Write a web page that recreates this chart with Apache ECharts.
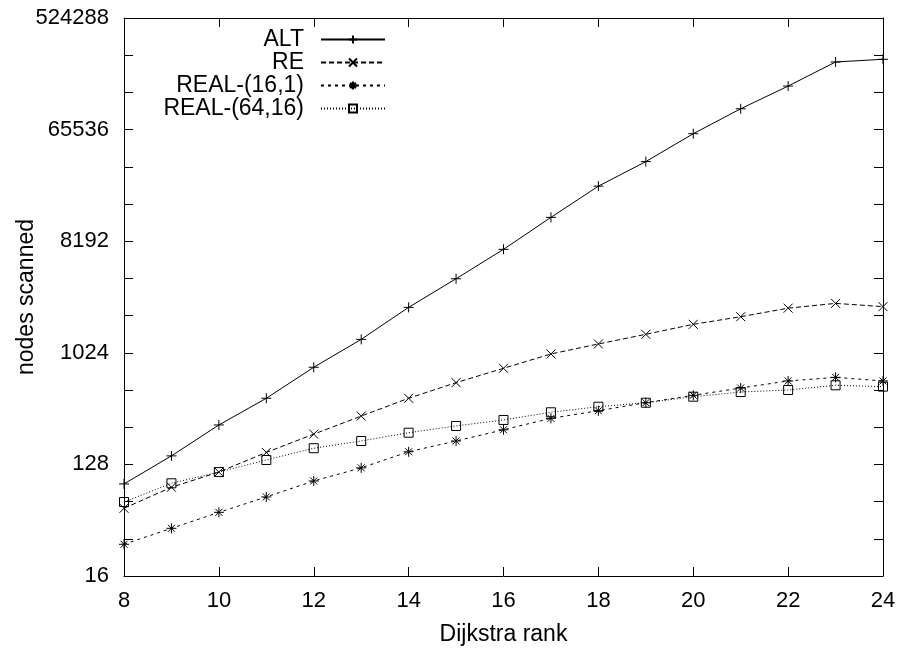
<!DOCTYPE html>
<html>
<head>
<meta charset="utf-8">
<script src="https://cdn.jsdelivr.net/npm/echarts@6/dist/echarts.min.js"></script>
<style>html,body{margin:0;padding:0;background:#fff}#c{width:901px;height:651px}</style>
</head>
<body>
<div id="c"></div>
<script>
const ranks = [8,9,10,11,12,13,14,15,16,17,18,19,20,21,22,23,24];
const alt = [89,150,267,439,782,1315,2388,4070,7040,12770,22850,36100,60700,96600,147500,231000,243000];
const re = [56.5,83.6,111,160,225,315,439,587,767,1002,1207,1445,1741,2006,2352,2572,2420];
const real16_1 = [28.9,38.9,52.4,69.8,94,120,162,198,244,302,348,404,464,531,606,648,606];
const real64_16 = [63.5,90,111,139,173,198,231,262,293,338,375,404,452,493,512,559,545];
const yTickLabels = [16,128,1024,8192,65536,524288];
const xTicks = [8,10,12,14,16,18,20,22,24];

const FONT = 'Liberation Sans';
const FS = 22;
const FS2 = 23;
const pair = arr => ranks.map((r,i)=>[r,arr[i]]);

const symPlus = 'path://M0,5L10,5M5,0L5,10';
const symCross = 'path://M0,0L10,10M10,0L0,10';
const symStar = 'path://M0,5L10,5M5,0L5,10M1.5,1.5L8.5,8.5M8.5,1.5L1.5,8.5';
const symBox = 'path://M0,0L10,0L10,10L0,10Z';

const seriesDefs = [
  {name:'ALT', data:alt, symbol:symPlus, size:10, dash:'solid'},
  {name:'RE', data:re, symbol:symCross, size:9, dash:[5,3]},
  {name:'REAL-(16,1)', data:real16_1, symbol:symStar, size:10, dash:[3,4]},
  {name:'REAL-(64,16)', data:real64_16, symbol:symBox, size:9, dash:[1,2]}
];

const legendTops = [28,51,74,97];
const legends = seriesDefs.map((s,i)=>({
  data:[s.name], orient:'vertical', right:515, top:legendTops[i], padding:0,
  align:'right', itemWidth:64, itemHeight:10, selectedMode:false,
  textStyle:{fontFamily:FONT, fontSize:FS2, color:'#000', padding:[0,12,0,0]}
}));

const baseY = {
  type:'log', logBase:2, min:16, max:524288, interval:1,
  splitLine:{show:false}, minorTick:{show:false}
};

const chart = echarts.init(document.getElementById('c'), null, {renderer:'canvas'});
chart.setOption({
  animation:false,
  backgroundColor:'#fff',
  legend: legends,
  grid:{left:124, right:18, top:18, bottom:75, containLabel:false, outerBoundsMode:'none'},
  xAxis:[
    {type:'value', min:8, max:24, interval:2, position:'bottom',
     name:'Dijkstra rank', nameLocation:'middle', nameGap:47, nameMoveOverlap:false,
     nameTextStyle:{fontFamily:FONT, fontSize:FS2, color:'#000'},
     axisLine:{show:true, onZero:false, lineStyle:{color:'#000', width:1}},
     axisTick:{show:true, inside:true, length:9, lineStyle:{color:'#000'}},
     axisLabel:{fontFamily:FONT, fontSize:FS, color:'#000', margin:14,
       formatter: v => xTicks.includes(v) ? String(v) : ''},
     splitLine:{show:false}},
    {type:'value', min:8, max:24, interval:2, position:'top',
     axisLine:{show:true, onZero:false, lineStyle:{color:'#000', width:1}},
     axisTick:{show:true, inside:true, length:9, lineStyle:{color:'#000'}},
     axisLabel:{show:false}, splitLine:{show:false}}
  ],
  yAxis:[
    Object.assign({}, baseY, {position:'left',
     name:'nodes scanned', nameLocation:'middle', nameGap:86, nameMoveOverlap:false,
     nameTextStyle:{fontFamily:FONT, fontSize:FS2, color:'#000'},
     axisLine:{show:true, onZero:false, lineStyle:{color:'#000', width:1}},
     axisTick:{show:true, inside:true, length:9, lineStyle:{color:'#000'}},
     axisLabel:{fontFamily:FONT, fontSize:FS, color:'#000', margin:15, showMinLabel:true, showMaxLabel:true,
       formatter: v => {
         const r = Math.round(v);
         return yTickLabels.includes(r) ? String(r) : '';
       }}}),
    Object.assign({}, baseY, {position:'right',
     axisLine:{show:true, onZero:false, lineStyle:{color:'#000', width:1}},
     axisTick:{show:true, inside:true, length:9, lineStyle:{color:'#000'}},
     axisLabel:{show:false}})
  ],
  series: seriesDefs.map(s=>({
    name:s.name, type:'line', xAxisIndex:0, yAxisIndex:0,
    data:pair(s.data), symbol:s.symbol, symbolSize:s.size, showSymbol:true,
    lineStyle:{color:'#000', width:1, type:s.dash},
    itemStyle:{color:'rgba(0,0,0,0)', borderColor:'#000', borderWidth:1},
    emphasis:{disabled:true}, silent:true, clip:false
  }))
});
</script>
</body>
</html>
